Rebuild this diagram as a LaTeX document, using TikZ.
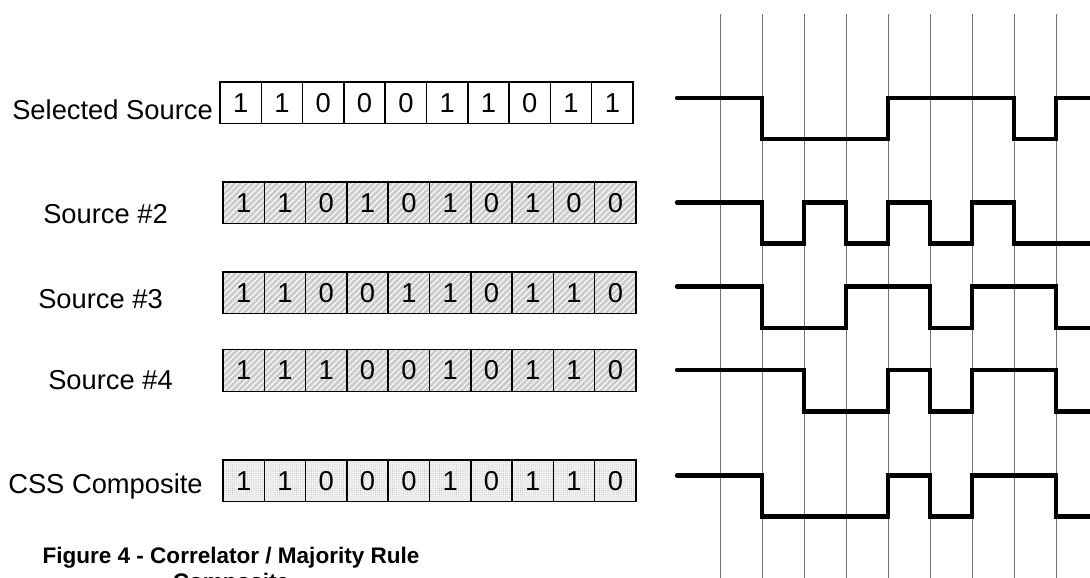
\documentclass[tikz,border=0pt]{standalone}
\usepackage{fontspec}
\setmainfont{Liberation Sans}
\usetikzlibrary{patterns.meta}

\tikzset{
  lbl/.style={inner sep=0pt, anchor=base west, font=\fontsize{20.5pt}{24pt}\selectfont},
  cellbox/.style={draw, line width=1.1pt, inner sep=0pt, outer sep=0pt,
    minimum width=30.975pt, minimum height=31.3pt,
    font=\fontsize{20.5pt}{24pt}\selectfont},
  plain/.style={fill=white},
  hatched/.style={preaction={fill=gray!40},
    pattern={Lines[angle=45, distance=3.2pt, line width=0.8pt]}, pattern color=white},
  dotted fill/.style={preaction={fill=gray!10},
    pattern={Dots[distance=1.6pt, radius=0.3pt]}, pattern color=gray!70},
  gridline/.style={line width=0.6pt, black!55},
  wave/.style={line width=3.2pt, line cap=round, line join=miter},
  caption/.style={inner sep=0pt, anchor=base, align=center,
    font=\fontsize{16.9pt}{20pt}\selectfont\bfseries},
}

% one row of ten bit cells: name, left x, top y, fill style, bits
\newcommand{\bitrow}[5]{%
  \foreach \b [count=\i] in {#5} {
    \node[cellbox, #4, anchor=north west] (#1-\i) at ({#2+(\i-1)*41.3}, #3) {\b};
  }}

\begin{document}
\begin{tikzpicture}[x=0.75pt, y=-0.75pt]
  \useasboundingbox (0,0) rectangle (1090,578);
  \clip (0,0) rectangle (1090,578);

  % bit-period grid
  \foreach \gx in {720,762,804,846,888,930,972,1014,1056}
    \draw[gridline] (\gx,14) -- (\gx,580);

  % row labels
  \node[lbl] (lsel) at (12,119) {Selected Source};
  \node[lbl] (ls2)  at (43,223) {Source \#2};
  \node[lbl] (ls3)  at (38,308) {Source \#3};
  \node[lbl] (ls4)  at (48,389) {Source \#4};
  \node[lbl] (lcss) at (8,493)  {CSS Composite};

  % bit registers
  \bitrow{sel}{220}{82}{plain}{1,1,0,0,0,1,1,0,1,1}
  \bitrow{s2}{223}{182}{hatched}{1,1,0,1,0,1,0,1,0,0}
  \bitrow{s3}{223}{272}{hatched}{1,1,0,0,1,1,0,1,1,0}
  \bitrow{s4}{223}{349.5}{hatched}{1,1,1,0,0,1,0,1,1,0}
  \bitrow{css}{223}{460}{dotted fill}{1,1,0,0,0,1,0,1,1,0}

  % waveforms
  \draw[wave] (677,98) -| (762,139) -| (888,98) -| (1014,139) -| (1056,98) -- (1100,98);
  \draw[wave] (677,202.5) -| (762,243.5) -| (804,202.5) -| (846,243.5) -| (888,202.5)
              -| (930,243.5) -| (972,202.5) -| (1014,243.5) -- (1100,243.5);
  \draw[wave] (677,286.5) -| (762,328) -| (846,286.5) -| (930,328) -| (972,286.5)
              -| (1056,328) -- (1100,328);
  \draw[wave] (677,370) -| (804,411.5) -| (888,370) -| (930,411.5) -| (972,370)
              -| (1056,411.5) -- (1100,411.5);
  \draw[wave] (677,475.5) -| (762,516.5) -| (888,475.5) -| (930,516.5) -| (972,475.5)
              -| (1056,516.5) -- (1100,516.5);

  % caption (second line runs off the bottom edge)
  \node[caption] (cap) at (231,589.7) {Figure 4 - Correlator / Majority Rule\\Composite};
\end{tikzpicture}
\end{document}
